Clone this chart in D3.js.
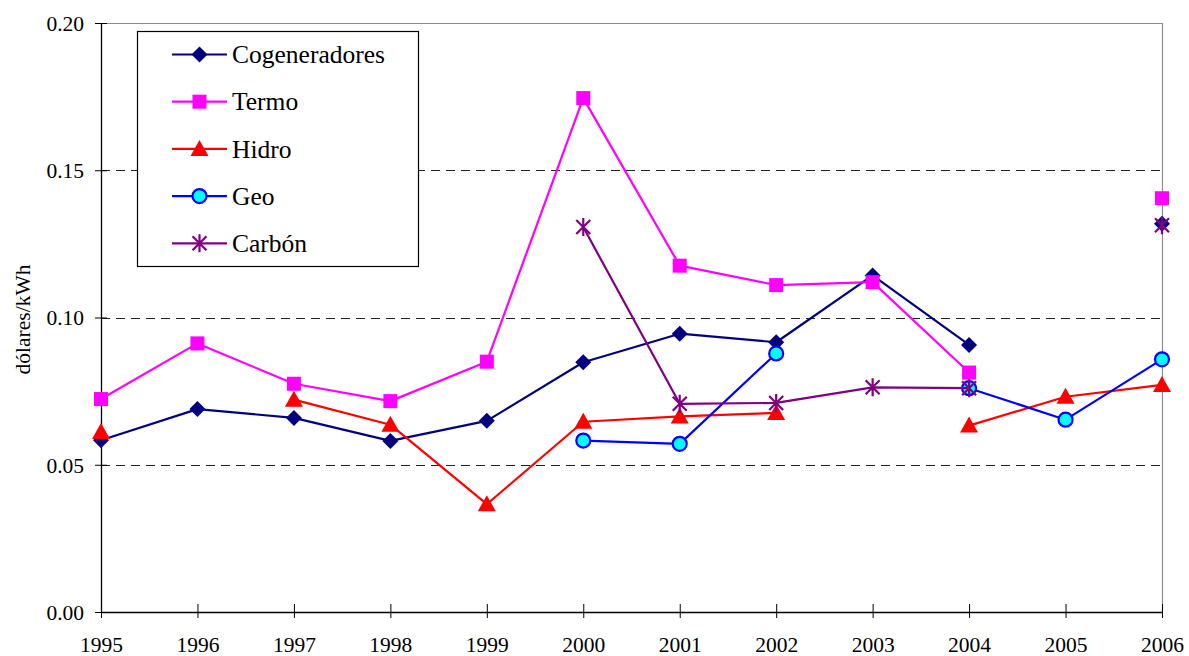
<!DOCTYPE html>
<html>
<head>
<meta charset="utf-8">
<script src="https://cdn.jsdelivr.net/npm/d3@7"></script>
<style>
	body { margin: 0; background: #fff; }
	svg { display: block; }
	svg text { font-family: "Liberation Serif", Tinos, "Times New Roman", Times, "DejaVu Serif", "Noto Serif", serif !important; }
</style>
</head>
<body>
<svg width="1189" height="656"></svg>
<script>
var years = [1995, 1996, 1997, 1998, 1999, 2000, 2001, 2002, 2003, 2004, 2005, 2006];
var yTicks = [0, 0.05, 0.10, 0.15, 0.20];

var cogeneradores = [0.0583, 0.0689, 0.0659, 0.0581, 0.0649, 0.0848, 0.0945, 0.0916, 0.1143, 0.0907, null, 0.1318];
var termo = [0.0723, 0.0912, 0.0775, 0.0716, 0.0850, 0.1745, 0.1176, 0.1110, 0.1120, 0.0813, null, 0.1405];
var hidro = [0.0611, null, 0.0721, 0.0636, 0.0366, 0.0646, 0.0664, 0.0676, null, 0.0633, 0.0731, 0.0771];
var geo = [null, null, null, null, null, 0.0582, 0.0571, 0.0878, null, 0.0760, 0.0653, 0.0858];
var carbon = [null, null, null, null, null, 0.1307, 0.0707, 0.0710, 0.0763, 0.0760, null, 0.1313];

var seriesNames = ["Cogeneradores", "Termo", "Hidro", "Geo", "Carbón"];
var seriesValues = [cogeneradores, termo, hidro, geo, carbon];
var seriesColors = ["#000080", "#ff00ff", "#ff0000", "#0000ff", "#800080"];
var seriesMarkers = ["diamond", "square", "triangle", "circle", "star"];

var serif = "'Liberation Serif', Tinos, 'Times New Roman', Times, 'DejaVu Serif', 'Noto Serif', serif";

var margin = { top: 23, right: 27, bottom: 44, left: 101 },
	width = 1189 - margin.left - margin.right,
	height = 656 - margin.top - margin.bottom;

var xScale = d3.scaleLinear()
	.domain([1995, 2006])
	.range([0, width]);

var yScale = d3.scaleLinear()
	.domain([0, 0.20])
	.range([height, 0]);

var svg = d3.select("svg")
	.attr("font-family", serif)
	.append("g").attr("transform", "translate(" + margin.left + "," + margin.top + ")");

// plot area border (grey top/right)
svg.append("path")
	.attr("d", "M0,0.5H" + (width + 0.5) + "V" + height)
	.attr("fill", "none")
	.attr("stroke", "#8c8c8c")
	.attr("stroke-width", 1.2);

svg.selectAll(".grid")
	.data(yTicks.filter(function (d) { return d > 0 && d < 0.2; }))
	.enter().append("line")
		.attr("class", "grid")
		.attr("x1", 0)
		.attr("x2", width)
		.attr("y1", function (d) { return Math.round(yScale(d)) + 0.5; })
		.attr("y2", function (d) { return Math.round(yScale(d)) + 0.5; })
		.attr("stroke", "#222")
		.attr("stroke-width", 1)
		.attr("stroke-dasharray", "9,6");

var xAxis = d3.axisBottom(xScale)
	.tickValues(years)
	.tickFormat(d3.format("d"))
	.tickSizeOuter(0);

var yAxis = d3.axisLeft(yScale)
	.tickValues(yTicks)
	.tickFormat(d3.format(".2f"))
	.tickSizeOuter(0);

var gx = svg.append("g")
	.attr("transform", "translate(0," + height + ")")
	.call(xAxis)
	.attr("font-family", serif)
	.attr("font-size", 21.5);
gx.selectAll(".tick line").attr("y1", -8).attr("y2", 6).attr("stroke", "#000");
gx.selectAll(".tick text")
	.attr("y", 40)
	.attr("dy", null)
	.attr("fill", "#000");

var gy = svg.append("g").call(yAxis)
	.attr("font-family", serif)
	.attr("font-size", 21.5);
gy.selectAll(".tick line").attr("x1", -6).attr("x2", 6).attr("stroke", "#000");
gy.selectAll(".tick text")
	.attr("x", -17)
	.attr("dy", "0.34em")
	.attr("fill", "#000");

gx.select(".domain").attr("stroke", "#000").attr("stroke-width", 1.3);
gy.select(".domain").attr("stroke", "#000").attr("stroke-width", 1.3);

svg.append("text")
	.text("dólares/kWh")
	.attr("transform", "rotate(-90)")
	.attr("x", -(yScale(0.1) + 2))
	.attr("y", -71)
	.style("text-anchor", "middle")
	.attr("font-size", 21.5);

function drawMarker(g, type, color) {
	if (type == "diamond") {
		g.append("path").attr("d", "M0,-8L8,0L0,8L-8,0Z").attr("fill", color);
	} else if (type == "square") {
		g.append("rect").attr("x", -7).attr("y", -7).attr("width", 14).attr("height", 14).attr("fill", color);
	} else if (type == "triangle") {
		g.append("path").attr("d", "M0,-9L9,7L-9,7Z").attr("fill", color);
	} else if (type == "circle") {
		g.append("circle").attr("r", 7).attr("fill", "#00ffff").attr("stroke", color).attr("stroke-width", 2.2);
	} else if (type == "star") {
		g.append("path").attr("d", "M-7,-7L7,7M-7,7L7,-7M0,-9V9")
			.attr("stroke", color).attr("stroke-width", 2.2).attr("fill", "none");
	}
}

var line = d3.line()
	.defined(function (d) { return d.value != null; })
	.x(function (d) { return xScale(d.year); })
	.y(function (d) { return yScale(d.value); });

seriesValues.forEach(function (values, i) {
	var data = years.map(function (y, j) { return { year: y, value: values[j] }; });

	svg.append("path")
		.datum(data)
		.attr("fill", "none")
		.attr("stroke", seriesColors[i])
		.attr("stroke-linejoin", "round")
		.attr("stroke-width", 2.2)
		.attr("d", line);

	svg.selectAll(".m" + i)
		.data(data.filter(function (d) { return d.value != null; }))
		.enter().append("g")
			.attr("class", "m" + i)
			.attr("transform", function (d) { return "translate(" + xScale(d.year) + "," + yScale(d.value) + ")"; })
			.each(function () { drawMarker(d3.select(this), seriesMarkers[i], seriesColors[i]); });
});

// legend
var legend = d3.select("svg").append("g").attr("transform", "translate(137,31)");

legend.append("rect")
	.attr("x", 0.5)
	.attr("y", 0.5)
	.attr("width", 281)
	.attr("height", 235)
	.attr("fill", "#fff")
	.attr("stroke", "#000")
	.attr("stroke-width", 1.2);

var item = legend.selectAll(".item")
	.data(seriesNames)
	.enter().append("g")
		.attr("class", "item")
		.attr("transform", function (d, i) { return "translate(0," + (23.5 + i * 47.2) + ")"; });

item.append("line")
	.attr("x1", 35)
	.attr("x2", 90)
	.attr("stroke", function (d, i) { return seriesColors[i]; })
	.attr("stroke-width", 2.2);

item.append("g")
	.attr("transform", "translate(62.5,0)")
	.each(function (d, i) { drawMarker(d3.select(this), seriesMarkers[i], seriesColors[i]); });

item.append("text")
	.attr("x", 95)
	.attr("dy", "0.34em")
	.attr("font-size", 25.5)
	.text(function (d) { return d; });
</script>
</body>
</html>
